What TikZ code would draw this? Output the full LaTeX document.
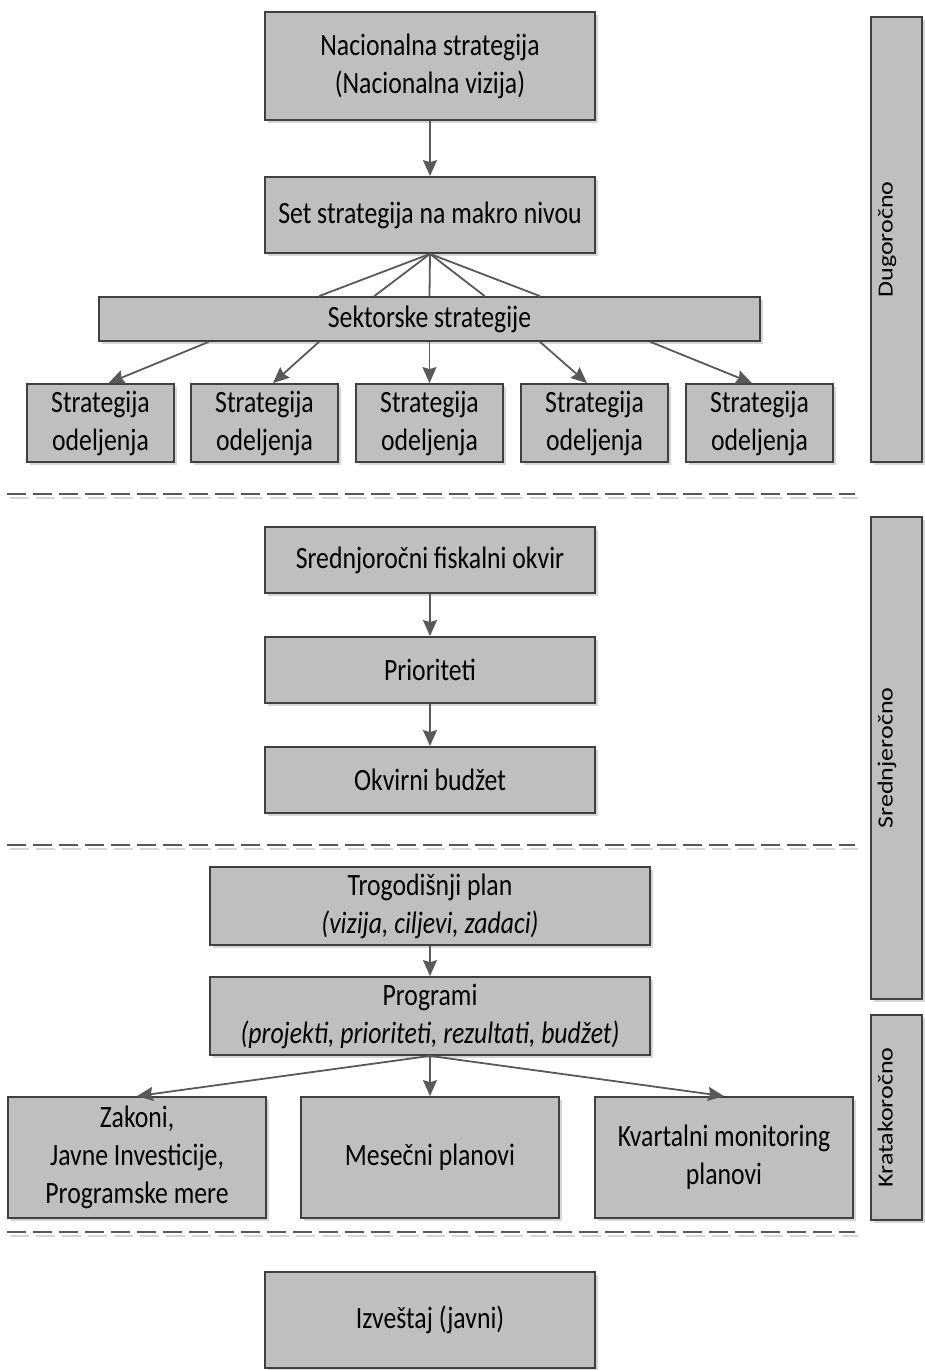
\documentclass[tikz,border=0pt]{standalone}
\usepackage{fontspec}
\setmainfont{Carlito}[FakeStretch=0.83]
\newfontfamily\uspravno{Carlito}
\usetikzlibrary{calc,arrows.meta,shadows}
\definecolor{okvirboja}{HTML}{404040}
\definecolor{poljeboja}{HTML}{BFBFBF}
\definecolor{linijaboja}{HTML}{595959}
\definecolor{senkaboja}{HTML}{D6D6D6}
\newcommand{\bocno}[1]{\raisebox{4pt}[0pt][0pt]{\scalebox{1}[0.83]{\uspravno\fontsize{26}{30}\selectfont #1}}}
\tikzset{blok/.style={draw=okvirboja,fill=poljeboja,line width=1.8pt,inner sep=0pt,align=center,
    font=\fontsize{31}{38}\selectfont,
    drop shadow={shadow xshift=3pt,shadow yshift=-3pt,fill=senkaboja,opacity=1}},
  razdoblje/.style={blok,rotate=90,minimum height=51pt},
  strelica/.style={draw=linijaboja,line width=1.8pt,-{Stealth[length=16pt,width=14pt,inset=2pt]}},
  linija/.style={draw=linijaboja,line width=1.8pt},
  crta/.style={line width=2.5pt,dash pattern=on 19pt off 7pt}}

\begin{document}
\begin{tikzpicture}[x=1pt,y=-1pt]
  \useasboundingbox (0,0) rectangle (924,1370);
  \foreach \y in {494,845,1232} {
    \draw[crta,senkaboja] (10,\y+4) -- (858,\y+4);
    \draw[crta,linijaboja] (7,\y) -- (855,\y);
  }
  \node[blok,minimum width=330pt,minimum height=108pt] (nac) at (430,66) {Nacionalna strategija\\(Nacionalna vizija)};
  \node[blok,minimum width=330pt,minimum height=76pt] (set) at (430,215) {Set strategija na makro nivou};
  \node[blok,minimum width=661pt,minimum height=44pt] (sek) at (429.5,319) {Sektorske strategije};
  \foreach \x [count=\i] in {100.5,264.5,429.5,594.5,759.5}
    \node[blok,minimum width=147pt,minimum height=78pt] (s\i) at (\x,423) {Strategija\\odeljenja};
  \node[blok,minimum width=330pt,minimum height=66pt] (sfo) at (430,560) {Srednjoročni fiskalni okvir};
  \node[blok,minimum width=330pt,minimum height=66pt] (pri) at (430,670) {Prioriteti};
  \node[blok,minimum width=330pt,minimum height=66pt] (okv) at (430,780) {Okvirni budžet};
  \node[blok,minimum width=440pt,minimum height=78pt] (tro) at (430,906) {Trogodišnji plan\\\textit{(vizija, ciljevi, zadaci)}};
  \node[blok,minimum width=440pt,minimum height=78pt] (prog) at (430,1016) {Programi\\\textit{(projekti, prioriteti, rezultati, budžet)}};
  \node[blok,minimum width=258pt,minimum height=121pt] (zak) at (137,1157.5) {Zakoni,\\Javne Investicije,\\Programske mere};
  \node[blok,minimum width=258pt,minimum height=121pt] (mes) at (430,1157.5) {Mesečni planovi};
  \node[blok,minimum width=258pt,minimum height=121pt] (kva) at (724,1157.5) {Kvartalni monitoring\\planovi};
  \node[blok,minimum width=330pt,minimum height=96pt] (izv) at (430,1320) {Izveštaj (javni)};
  \node[razdoblje,minimum width=445pt] (dug) at (896.5,239.5) {\bocno{Dugoročno}};
  \node[razdoblje,minimum width=482pt] (sre) at (896.5,758) {\bocno{Srednjeročno}};
  \node[razdoblje,minimum width=205pt] (kra) at (896.5,1117.5) {\bocno{Kratakoročno}};
  \draw[strelica] (nac) -- (set);
  \foreach \f in {0.3333,0.4167,0.5,0.5833,0.6667}
    \draw[linija] (set.south) -- ($(sek.north west)!\f!(sek.north east)$);
  \foreach \f/\d [count=\i] in {0.1667/8,0.3333/8.5,0.5/0,0.6667/-7.5,0.8333/-7.5}
    \draw[strelica] ($(sek.south west)!\f!(sek.south east)$) -- ([xshift=\d pt]s\i.north);
  \draw[strelica] (sfo) -- (pri);
  \draw[strelica] (pri) -- (okv);
  \draw[strelica] (tro) -- (prog);
  \draw[strelica] (prog.south) -- (zak.north);
  \draw[strelica] (prog.south) -- (mes.north);
  \draw[strelica] (prog.south) -- (kva.north);
\end{tikzpicture}
\end{document}
